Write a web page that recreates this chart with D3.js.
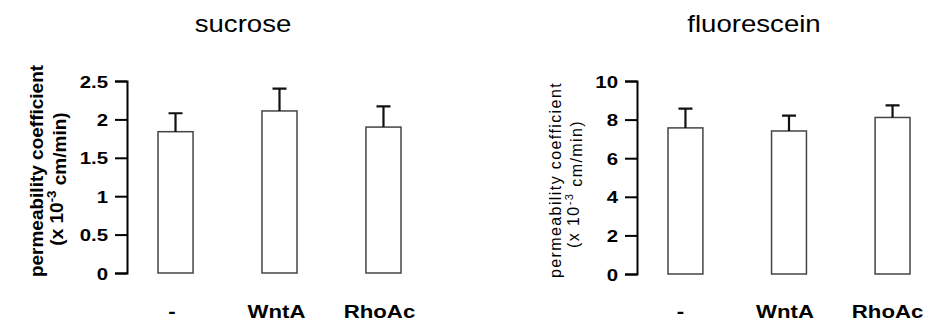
<!DOCTYPE html>
<meta charset="utf-8">
<style>
    body { margin: 0; background: #fff; }
    text { font-family: "Liberation Sans", Arial, sans-serif; fill: #000; }
    .tick text { font-size: 17px; font-weight: bold; }
    .domain, .tick line { stroke: #000; stroke-width: 2px; }
</style>
<body>
<script src="https://d3js.org/d3.v7.min.js"></script>
<script>
    var categories = ["-", "WntA", "RhoAc"];

    var sucroseMean = [1.84, 2.11, 1.90];
    var sucroseErr = [0.24, 0.29, 0.27];
    var sucroseTicks = [0, 0.5, 1, 1.5, 2, 2.5];

    var fluorMean = [7.57, 7.41, 8.11];
    var fluorErr = [1.0, 0.80, 0.63];
    var fluorTicks = [0, 2, 4, 6, 8, 10];

    var stretch = 1.2; // the original picture is a bit wider than tall

    var svg = d3.select("body").append("svg")
        .attr("width", 927)
        .attr("height", 322);

    function panel(opt) {
        var y = d3.scaleLinear().domain([0, opt.max]).range([opt.bottom, opt.top]);
        var x = d3.scaleBand().domain(categories)
            .range(opt.barRange)
            .paddingInner(0.663).paddingOuter(0);

        var g = svg.append("g");

        g.append("g")
            .attr("transform", "translate(" + opt.axisX + ",0)")
            .call(d3.axisLeft(y).tickValues(opt.ticks).tickSize(12).tickSizeOuter(12)
                .tickFormat(function(d) { return d; }));
        g.selectAll(".tick text")
            .attr("x", -19 / stretch)
            .attr("dy", "0.36em")
            .attr("transform", "scale(" + stretch + ",1)");

        g.selectAll(".bar")
            .data(opt.mean)
            .enter().append("rect")
            .attr("x", function(d, i) { return x(categories[i]); })
            .attr("y", function(d) { return y(d); })
            .attr("width", x.bandwidth())
            .attr("height", function(d) { return y(0) - y(d); })
            .attr("fill", "#fff")
            .attr("stroke", "#444")
            .attr("stroke-width", 1.5);

        var cx = function(i) { return x(categories[i]) + x.bandwidth() / 2; };
        g.selectAll(".err")
            .data(opt.mean)
            .enter().append("path")
            .attr("d", function(d, i) {
                var top = y(d + opt.err[i]);
                return "M" + cx(i) + "," + y(d) + "V" + top + "M" + (cx(i) - 7) + "," + top + "H" + (cx(i) + 7);
            })
            .attr("stroke", "#111")
            .attr("stroke-width", 2.2)
            .attr("fill", "none");

        g.selectAll(".xlab")
            .data(categories)
            .enter().append("text")
            .attr("transform", function(d, i) {
                return "translate(" + (cx(i) + opt.labShift[i]) + ",318) scale(" + stretch + ",1)";
            })
            .attr("text-anchor", "middle")
            .style("font-size", "18.5px")
            .style("font-weight", "bold")
            .text(function(d) { return d; });

        g.append("text")
            .attr("transform", "translate(" + opt.titleX + ",32) scale(" + stretch + ",1)")
            .attr("text-anchor", "middle")
            .style("font-size", "23px")
            .text(opt.title);

        var lab = g.append("g")
            .attr("transform", "translate(" + opt.labX + "," + opt.labY + ") rotate(-90)");
        lab.append("text")
            .attr("text-anchor", "middle")
            .style("font-size", opt.labSize)
            .style("font-weight", opt.labWeight)
            .style("letter-spacing", opt.labSpacing)
            .text("permeability coefficient");
        var l2 = lab.append("text")
            .attr("x", opt.lab2Shift)
            .attr("y", opt.labGap)
            .attr("text-anchor", "middle")
            .style("font-size", opt.labSize)
            .style("font-weight", opt.labWeight)
            .style("letter-spacing", opt.labSpacing);
        l2.append("tspan").text("(x 10");
        l2.append("tspan").attr("dy", "-0.55em").style("font-size", "0.7em").text("-3");
        l2.append("tspan").attr("dy", "0.55em").text("  cm/min)");
    }

    panel({
        mean: sucroseMean, err: sucroseErr, ticks: sucroseTicks, max: 2.5,
        axisX: 127, top: 81, bottom: 273, barRange: [158, 401],
        title: "sucrose", titleX: 243,
        labX: 43, labY: 171, labGap: 20, lab2Shift: -8, labSize: "19px", labWeight: "bold", labSpacing: "0px",
        labShift: [-3.5, -3, -4]
    });

    panel({
        mean: fluorMean, err: fluorErr, ticks: fluorTicks, max: 10,
        axisX: 637, top: 81, bottom: 274, barRange: [668, 910],
        title: "fluorescein", titleX: 754,
        labX: 561, labY: 180, labGap: 18, lab2Shift: -4, labSize: "16px", labWeight: "normal", labSpacing: "1.4px",
        labShift: [-5, -4, -5]
    });
</script>
</body>
